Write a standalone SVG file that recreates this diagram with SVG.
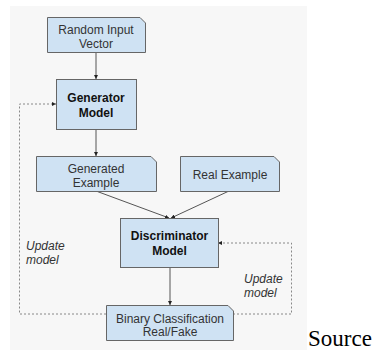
<svg xmlns="http://www.w3.org/2000/svg" width="378" height="352" viewBox="0 0 378 352">
<style>
.box{fill:#cfe2f3;stroke:#666;stroke-width:1}
.t{font-family:"Liberation Sans",Arial,sans-serif;font-size:12px;fill:#333;text-anchor:middle}
.b{font-weight:bold;fill:#111}
.i{font-family:"Liberation Sans",Arial,sans-serif;font-size:12px;font-style:italic;fill:#333}
.ln{stroke:#555;stroke-width:1;fill:none}
.dl{stroke:#888;stroke-width:1;fill:none;stroke-dasharray:2,2}
</style>
<defs>
<marker id="ah" viewBox="0 0 6 6" refX="6" refY="3" markerWidth="4" markerHeight="4" orient="auto" markerUnits="userSpaceOnUse">
<path d="M0,0 L6,3 L0,6 Z" fill="#222"/>
</marker>
</defs>
<rect x="10" y="6" width="297" height="344" fill="#f7f7f7"/>
<g id="connectors">
<line class="ln" x1="96" y1="52" x2="96" y2="79" marker-end="url(#ah)"/>
<line class="ln" x1="96" y1="129" x2="96" y2="156" marker-end="url(#ah)"/>
<line class="ln" x1="96" y1="191" x2="169" y2="218" marker-end="url(#ah)"/>
<line class="ln" x1="229" y1="191" x2="171" y2="218" marker-end="url(#ah)"/>
<line class="ln" x1="170" y1="267" x2="170" y2="305" marker-end="url(#ah)"/>
<polyline class="dl" points="106,314 19.5,314 19.5,104 56,104" marker-end="url(#ah)"/>
<polyline class="dl" points="233,314 291.5,314 291.5,243 218,243" marker-end="url(#ah)"/>
</g>
<g id="random-input">
<path class="box" d="M47.5,17.5 H140 L145.5,23 V52.5 H47.5 Z"/>
<text class="t" x="96" y="34">Random Input</text>
<text class="t" x="96" y="48">Vector</text>
</g>
<g id="generator">
<rect class="box" x="56.5" y="79.5" width="80" height="50"/>
<text class="t b" x="96" y="102">Generator</text>
<text class="t b" x="96" y="116.5">Model</text>
</g>
<g id="generated-example">
<path class="box" d="M36.5,156.5 H151 L156.5,162 V191.5 H36.5 Z"/>
<text class="t" x="96" y="173">Generated</text>
<text class="t" x="96" y="187">Example</text>
</g>
<g id="real-example">
<path class="box" d="M180.5,156.5 H274 L279.5,162 V191.5 H180.5 Z"/>
<text class="t" x="230" y="179">Real Example</text>
</g>
<g id="discriminator">
<rect class="box" x="120.5" y="218.5" width="98" height="49"/>
<text class="t b" x="169.5" y="240">Discriminator</text>
<text class="t b" x="169.5" y="255">Model</text>
</g>
<g id="binary-classification">
<path class="box" d="M106.5,305.5 H228 L233.5,311 V340.5 H106.5 Z"/>
<text class="t" x="170" y="322.5">Binary Classification</text>
<text class="t" x="170" y="336">Real/Fake</text>
</g>
<g id="labels">
<text class="i" x="26" y="250">Update</text>
<text class="i" x="26" y="264">model</text>
<text class="i" x="244" y="283">Update</text>
<text class="i" x="244" y="297">model</text>
</g>
<text x="308" y="346" font-family="'Liberation Serif','Times New Roman',serif" font-size="23" fill="#000">Source</text>
</svg>
